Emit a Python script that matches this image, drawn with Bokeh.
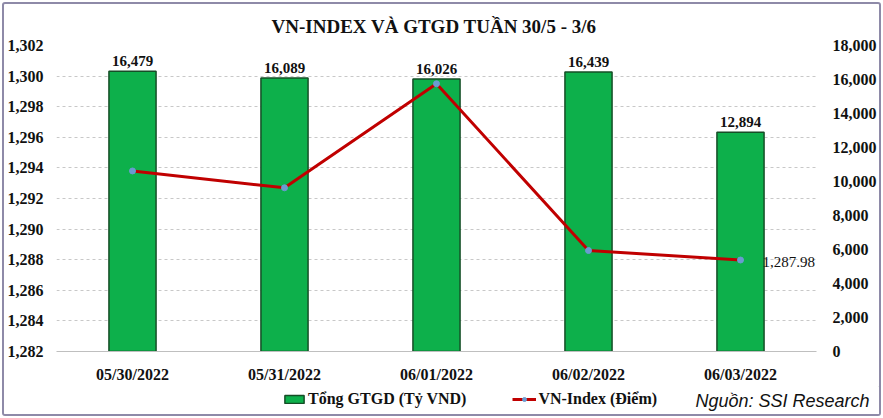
from bokeh.plotting import figure
from bokeh.layouts import column
from bokeh.models import (Range1d, LinearAxis, FixedTicker, NumeralTickFormatter,
                          ColumnDataSource, Legend, LegendItem, Label)
from bokeh.core.properties import value
from bokeh.embed import file_html
from bokeh.resources import INLINE

# ---- data ----
dates = ["05/30/2022", "05/31/2022", "06/01/2022", "06/02/2022", "06/03/2022"]
gtgd = [16479, 16089, 16026, 16439, 12894]           # Tổng GTGD (Tỷ VND)
vnindex = [1293.8, 1292.7, 1299.5, 1288.6, 1287.98]  # VN-Index (Điểm)
left_ticks = [1282, 1284, 1286, 1288, 1290, 1292, 1294, 1296, 1298, 1300, 1302]
right_ticks = [0, 2000, 4000, 6000, 8000, 10000, 12000, 14000, 16000, 18000]
title_text = "VN-INDEX VÀ GTGD TUẦN 30/5 -  3/6"
source_text = "Nguồn: SSI Research"
legend_labels = ["Tổng GTGD (Tỷ VND)", "VN-Index (Điểm)"]

SERIF = "Liberation Serif"
BAR_FILL, BAR_LINE = "#0DB04B", "#154d26"
LINE_COLOR, MARK_COLOR = "#C00000", "#6A9BD1"

p = figure(x_range=dates, y_range=Range1d(1282, 1302),
           width=875, height=382, output_backend="svg", toolbar_location=None,
           min_border_left=51, min_border_right=63, min_border_top=40, min_border_bottom=35)
p.extra_y_ranges = {"gtgd": Range1d(0, 18000)}
p.outline_line_color = None

p.title.text = title_text
p.title.align = "center"
p.title.text_font = SERIF
p.title.text_font_size = "19px"
p.title.text_font_style = "bold"
p.title.text_color = "#111111"
p.title.standoff = 18

src = ColumnDataSource(dict(
    d=dates, g=gtgd, v=vnindex,
    glab=[f"{x:,}" for x in gtgd],
))

p.vbar(x="d", top="g", width=0.31, source=src, y_range_name="gtgd",
       fill_color=BAR_FILL, line_color=BAR_LINE, line_width=1.5)
p.text(x="d", y="g", text="glab", source=src, y_range_name="gtgd",
       text_align="center", text_baseline="bottom", y_offset=-5,
       text_font=value(SERIF), text_font_style="bold", text_font_size="15px",
       text_color="#111111")

p.line(x="d", y="v", source=src, line_color=LINE_COLOR, line_width=3)
p.scatter(x="d", y="v", source=src, size=6, fill_color=MARK_COLOR, line_color=MARK_COLOR)

last = ColumnDataSource(dict(d=[dates[-1]], v=[vnindex[-1]], t=[f"{vnindex[-1]:,.2f}"]))
p.text(x="d", y="v", text="t", source=last, x_offset=22, y_offset=2,
       text_align="left", text_baseline="middle",
       text_font=value(SERIF), text_font_size="15px", text_color="#111111")

# axes
p.yaxis.ticker = FixedTicker(ticks=left_ticks)
p.yaxis.formatter = NumeralTickFormatter(format="0,0")
ax_r = LinearAxis(y_range_name="gtgd", ticker=FixedTicker(ticks=right_ticks),
                  formatter=NumeralTickFormatter(format="0,0"))
p.add_layout(ax_r, "right")

for ax in (p.yaxis[0], ax_r):
    ax.axis_line_color = None
    ax.major_tick_line_color = None
    ax.minor_tick_line_color = None
p.yaxis[0].major_label_standoff = 7
ax_r.major_label_standoff = 10
for ax in (p.yaxis[0], ax_r, p.xaxis[0]):
    ax.major_label_text_font = SERIF
    ax.major_label_text_font_style = "bold"
    ax.major_label_text_font_size = "16px"
    ax.major_label_text_color = "#111111"

p.xaxis.axis_line_color = "#BFBFBF"
p.xaxis.major_tick_line_color = None
p.xaxis.major_label_standoff = 8
p.xgrid.grid_line_color = None
p.ygrid.grid_line_color = "#C8C8C8"
p.ygrid.grid_line_dash = "3 3"

# ---- footer with legend and source ----
f = figure(x_range=Range1d(0, 1), y_range=Range1d(0, 1), width=875, height=28,
           output_backend="svg", toolbar_location=None,
           min_border_left=0, min_border_right=0, min_border_top=0, min_border_bottom=0)
if "frame_align" in f.properties():
    f.frame_align = False
    p.frame_align = False
f.axis.visible = False
f.grid.visible = False
f.outline_line_color = None
# legend proxies (placed outside the footer's visible range)
lb = f.vbar(x=[5], top=[5], bottom=[4], width=0.3, fill_color=BAR_FILL, line_color=BAR_LINE, line_width=1.5)
ll = f.line(x=[5, 6], y=[5, 5], line_color=LINE_COLOR, line_width=3)
lm = f.scatter(x=[5], y=[5], size=6, fill_color=MARK_COLOR, line_color=MARK_COLOR)

legend = Legend(items=[
    LegendItem(label=legend_labels[0], renderers=[lb]),
    LegendItem(label=legend_labels[1], renderers=[ll, lm]),
], location=(278, 6), orientation="horizontal", padding=0, margin=0,
    spacing=46, glyph_width=24, glyph_height=10, label_standoff=2,
    background_fill_alpha=0, border_line_color=None,
    label_text_font=SERIF, label_text_font_style="bold", label_text_font_size="16px",
    label_text_color="#111111")
f.add_layout(legend, "center")

f.add_layout(Label(x=691, y=4, x_units="screen", y_units="screen", text=source_text,
                   text_font="Liberation Sans", text_font_style="italic",
                   text_font_size="18px", text_color="#111111"))

layout = column(p, f, spacing=0)
layout.styles = {"border": "2px solid #8E8AA8", "border-radius": "3px", "margin": "2px"}

open("out.html", "w").write(file_html(layout, INLINE))
